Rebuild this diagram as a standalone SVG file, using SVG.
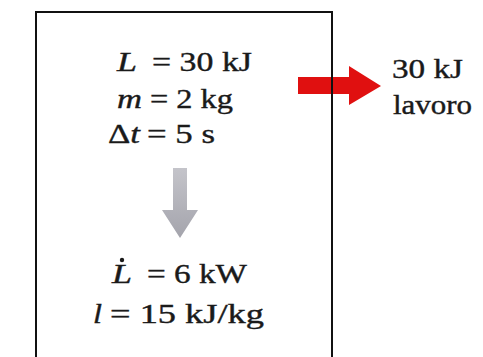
<svg xmlns="http://www.w3.org/2000/svg" width="483" height="357" viewBox="0 0 483 357">
<style>
text{font-family:"Liberation Serif","Times New Roman",serif;font-size:28px;fill:#1a1a1a;stroke:#1a1a1a;stroke-width:0.4}
.i{font-style:italic}
</style>
<defs>
<linearGradient id="g" x1="0" y1="0" x2="0" y2="1">
<stop offset="0" stop-color="#c4c4ca"/>
<stop offset="1" stop-color="#a4a4ac"/>
</linearGradient>
</defs>
<rect width="483" height="357" fill="#fff"/>
<g id="box">
<path d="M36,370 V12 H332 V370" fill="none" stroke="#111" stroke-width="2"/>
<text class="i" x="117" y="71" textLength="20" lengthAdjust="spacingAndGlyphs">L</text>
<text x="152" y="71" textLength="100" lengthAdjust="spacingAndGlyphs">= 30 kJ</text>
<text class="i" x="117" y="108" textLength="25" lengthAdjust="spacingAndGlyphs">m</text>
<text x="150" y="108" textLength="83" lengthAdjust="spacingAndGlyphs">= 2 kg</text>
<text x="108" y="143" textLength="32" lengthAdjust="spacingAndGlyphs">Δ<tspan class="i">t</tspan></text>
<text x="147" y="143" textLength="68" lengthAdjust="spacingAndGlyphs">= 5 s</text>
<text class="i" x="112" y="283" textLength="20" lengthAdjust="spacingAndGlyphs">L</text>
<circle cx="122" cy="260" r="2.2" fill="#1a1a1a"/>
<text x="147" y="283" textLength="100" lengthAdjust="spacingAndGlyphs">= 6 kW</text>
<text class="i" x="93" y="323" textLength="9" lengthAdjust="spacingAndGlyphs">l</text>
<text x="110" y="323" textLength="154" lengthAdjust="spacingAndGlyphs">= 15 kJ/kg</text>
</g>
<g id="connectors">
<path d="M173,168 H187 V210 H198 L180,238 L162,210 H173 Z" fill="url(#g)"/>
<path d="M298,77 H349 V66 L381,86 L349,105 V94 H298 Z" fill="#e01010"/>
<line x1="332" y1="60" x2="332" y2="110" stroke="#111" stroke-width="2"/>
</g>
<g id="label">
<text x="392" y="78" textLength="71" lengthAdjust="spacingAndGlyphs">30 kJ</text>
<text x="393" y="114" textLength="79" lengthAdjust="spacingAndGlyphs">lavoro</text>
</g>
</svg>
